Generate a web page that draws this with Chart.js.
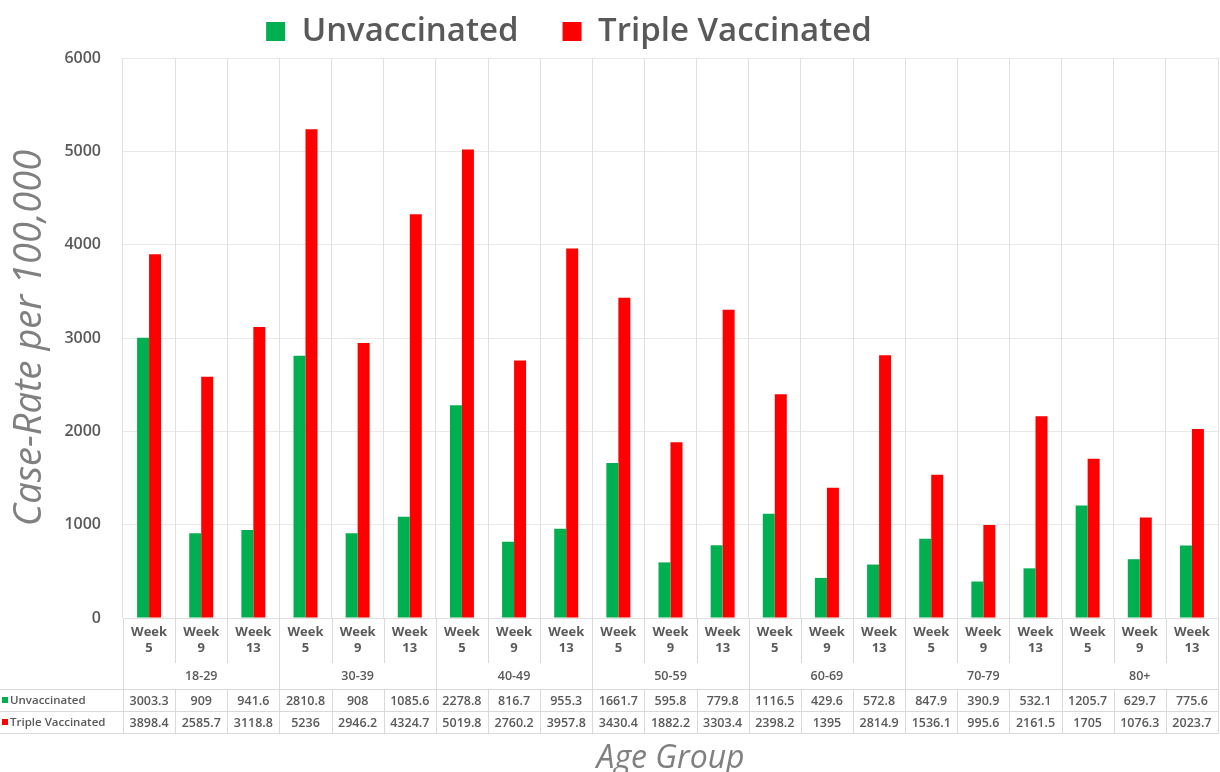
<!DOCTYPE html>
<html><head><meta charset="utf-8">
<script src="https://cdn.jsdelivr.net/npm/chart.js@4.4.1/dist/chart.umd.min.js"></script>
<style>html,body{margin:0;padding:0;background:#fff;}#wrap{width:1220px;height:772px;}</style>
</head><body><div id="wrap"><canvas id="c" width="1220" height="772"></canvas></div>
<script>
const weeks = ["5","9","13"];
const ageGroups = ["18-29","30-39","40-49","50-59","60-69","70-79","80+"];
const categories = [];
ageGroups.forEach(g => weeks.forEach(w => categories.push(["Week", w])));
const unvaccinated = [3003.3, 909, 941.6, 2810.8, 908, 1085.6, 2278.8, 816.7, 955.3, 1661.7, 595.8, 779.8, 1116.5, 429.6, 572.8, 847.9, 390.9, 532.1, 1205.7, 629.7, 775.6];
const tripleVaccinated = [3898.4, 2585.7, 3118.8, 5236, 2946.2, 4324.7, 5019.8, 2760.2, 3957.8, 3430.4, 1882.2, 3303.4, 2398.2, 1395, 2814.9, 1536.1, 995.6, 2161.5, 1705, 1076.3, 2023.7];
const yTicks = [0, 1000, 2000, 3000, 4000, 5000, 6000];

const GREEN = '#00b050', RED = '#ff0000', TXT = '#595959', LINE = '#d9d9d9';
const FONT = '"Open Sans", "Liberation Sans", sans-serif';

const tablePlugin = {
  id: 'dataTable',
  afterLayout(chart) {
    // Excel places the legend slightly left of the canvas centre
    if (chart.legend) { chart.legend.left -= 40; chart.legend.right -= 40; }
  },
  afterDraw(chart) {
    const ctx = chart.ctx, x = chart.scales.x, ca = chart.chartArea;
    const n = categories.length;
    const half = (x.getPixelForValue(1) - x.getPixelForValue(0)) / 2;
    const edge = i => x.getPixelForValue(i) - half;
    const yWeekEnd = ca.bottom + 45, yRow1 = ca.bottom + 71, yRow2 = ca.bottom + 93, yRow3 = ca.bottom + 115;
    ctx.save();
    ctx.strokeStyle = LINE; ctx.lineWidth = 1;
    ctx.beginPath();
    for (let i = 0; i <= n; i++) {
      const px = Math.round(edge(i)) + 0.5;
      const groupEdge = (i % 3 === 0);
      ctx.moveTo(px, ca.bottom); ctx.lineTo(px, groupEdge ? yRow3 : yWeekEnd);
      ctx.moveTo(px, yRow1); ctx.lineTo(px, yRow3);
    }
    [yRow1, yRow2, yRow3].forEach(y => { ctx.moveTo(0, y + 0.5); ctx.lineTo(Math.round(edge(n)) + 0.5, y + 0.5); });
    ctx.stroke();
    ctx.fillStyle = TXT; ctx.textAlign = 'center'; ctx.textBaseline = 'middle';
    ctx.font = '600 12.5px ' + FONT;
    ageGroups.forEach((g, gi) => ctx.fillText(g, x.getPixelForValue(gi * 3 + 1), ca.bottom + 58));
    for (let i = 0; i < n; i++) {
      const cx = x.getPixelForValue(i);
      ctx.fillText(String(unvaccinated[i]), cx, (yRow1 + yRow2) / 2 + 1);
      ctx.fillText(String(tripleVaccinated[i]), cx, (yRow2 + yRow3) / 2 + 1);
    }
    ctx.textAlign = 'left'; ctx.font = '600 11.5px ' + FONT;
    const rows = [[chart.data.datasets[0].label, GREEN, (yRow1 + yRow2) / 2], [chart.data.datasets[1].label, RED, (yRow2 + yRow3) / 2]];
    rows.forEach(([lab, col, y]) => {
      ctx.fillStyle = col; ctx.fillRect(2, y - 3, 6, 6);
      ctx.fillStyle = TXT; ctx.fillText(lab, 10, y + 1);
    });
    ctx.restore();
  }
};

new Chart(document.getElementById('c'), {
  type: 'bar',
  data: {
    labels: categories,
    datasets: [
      { label: 'Unvaccinated', data: unvaccinated, backgroundColor: GREEN, categoryPercentage: 0.46, barPercentage: 1 },
      { label: 'Triple Vaccinated', data: tripleVaccinated, backgroundColor: RED, categoryPercentage: 0.46, barPercentage: 1 }
    ]
  },
  options: {
    responsive: false, animation: false,
    layout: { padding: { top: -29, right: 2, left: 0, bottom: 0 } },
    plugins: {
      legend: {
        position: 'top',
        labels: { boxWidth: 19, boxHeight: 19, padding: 44, color: TXT, font: { family: FONT, size: 33, weight: '600' } }
      },
      tooltip: { enabled: false }
    },
    scales: {
      y: {
        min: 0, max: 6000,
        afterBuildTicks: s => { s.ticks = yTicks.map(v => ({ value: v })); },
        afterFit: s => { s.width = 123; },
        grid: { color: '#e8e8e8', drawTicks: false },
        border: { display: false },
        ticks: { color: TXT, padding: 22, font: { family: FONT, size: 16, weight: '600' }, callback: v => String(v) },
        title: { display: true, text: 'Case-Rate per 100,000', color: '#808080', padding: { top: 7, bottom: 0 }, font: { family: FONT, size: 38, style: 'italic' } }
      },
      x: {
        afterFit: s => { s.height = 154; },
        grid: { color: '#e0e0e0', drawTicks: false, offset: true },
        border: { display: true, color: '#e0e0e0' },
        ticks: { color: TXT, padding: 6, maxRotation: 0, autoSkip: false, font: { family: FONT, size: 13, weight: '700', lineHeight: 1.25 } },
        title: { display: true, text: 'Age Group', color: '#808080', padding: { top: 0, bottom: -6 }, font: { family: FONT, size: 32, style: 'italic' } }
      }
    }
  },
  plugins: [tablePlugin]
});
</script></body></html>
